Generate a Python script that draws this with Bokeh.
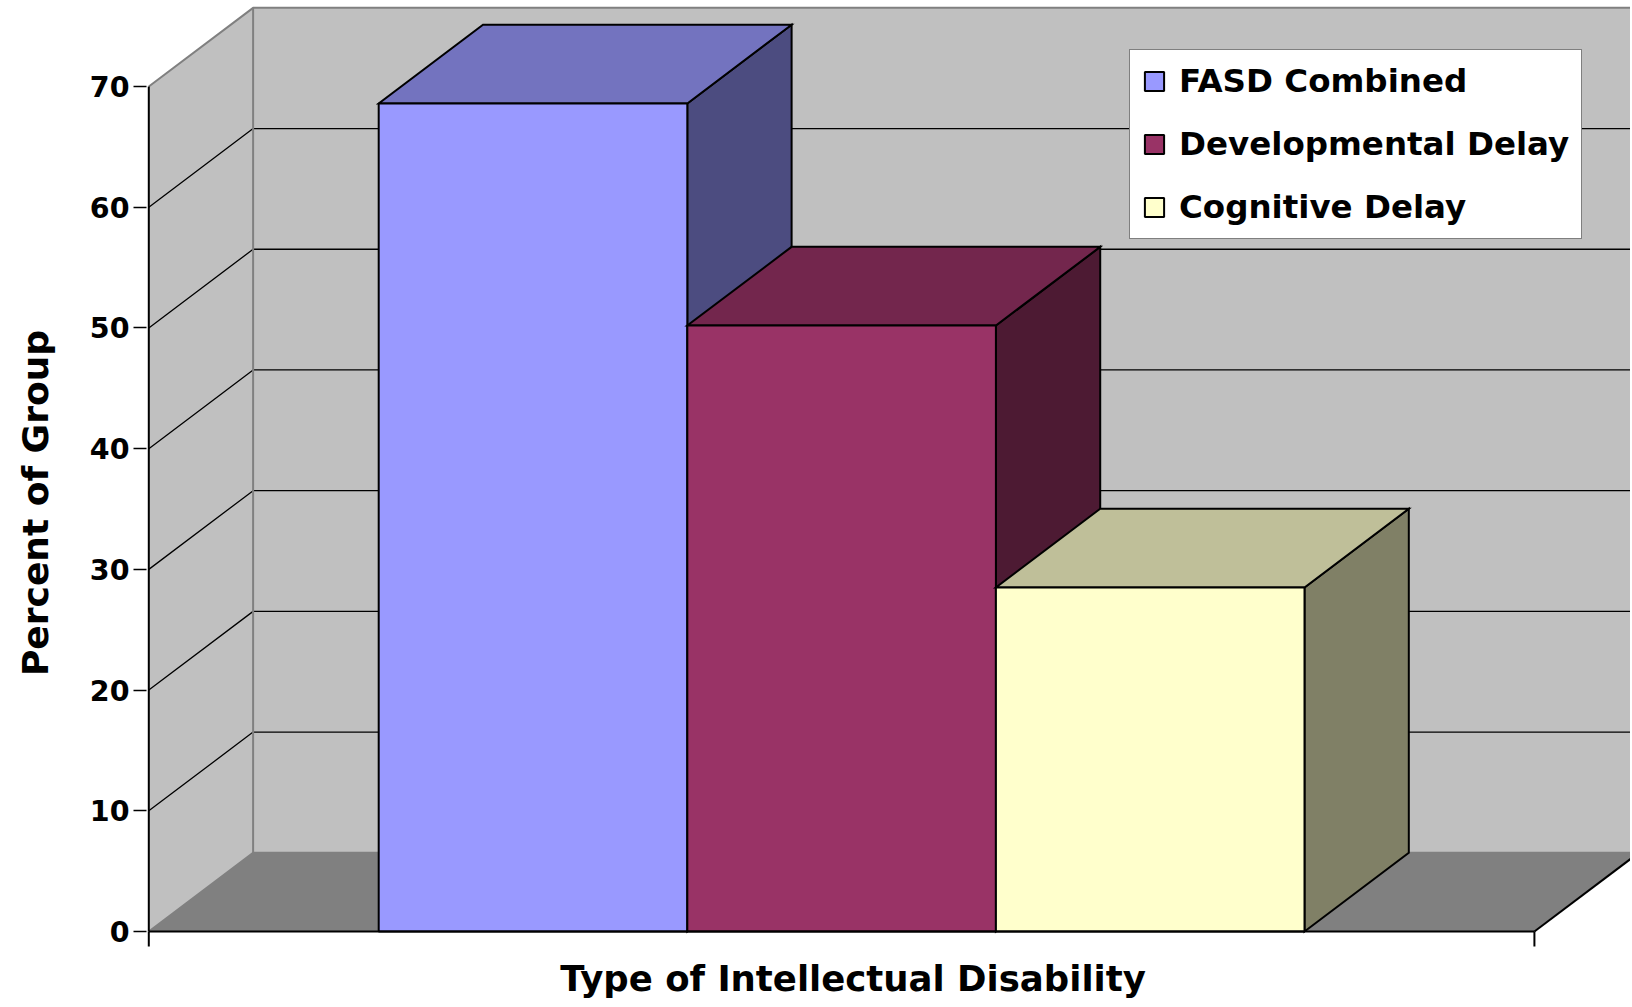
from bokeh.plotting import figure
from bokeh.models import (Range1d, LinearAxis, FixedTicker, Legend, LegendItem, Label)
from bokeh.embed import file_html
from bokeh.resources import INLINE

# ---------------- data ----------------
categories = ["FASD Combined", "Developmental Delay", "Cognitive Delay"]
values = [68.6, 50.2, 28.5]
front_colors = ["#9999FF", "#993366", "#FFFFCC"]
top_colors = ["#7373BF", "#73264D", "#BFBF99"]
side_colors = ["#4C4C80", "#4D1A33", "#808066"]
y_ticks = [0, 10, 20, 30, 40, 50, 60, 70]
y_title = "Percent of Group"
x_title = "Type of Intellectual Disability"

# ---------------- geometry / style ----------------
GAP = 0.745          # gap between axis end and bar cluster (bar widths)
BAR_W = 1.0
DX = 0.338           # depth offset (x, bar widths)
DY = 6.52            # depth offset (y, value units)
Y_MAX = 70
AXIS_LEN = 2 * GAP + len(values) * BAR_W

W, H = 1630, 1005
FRAME_LEFT = 146
PX_X = 308.6
PX_Y = 12.071
ZERO_Y = 931
x_start = -2.3 / PX_X
x_end = x_start + (W - FRAME_LEFT) / PX_X
y_top = ZERO_Y / PX_Y
y_bot = -(H - ZERO_Y) / PX_Y
FONT = "DejaVu Sans"

p = figure(width=W, height=H, x_range=Range1d(x_start, x_end), y_range=Range1d(y_bot, y_top),
           output_backend="svg", toolbar_location=None,
           x_axis_location=None, y_axis_location=None,
           min_border_left=FRAME_LEFT, min_border_right=0, min_border_top=0, min_border_bottom=0)
p.outline_line_color = None
p.grid.visible = False
p.background_fill_color = "white"

# walls and floor
wall = "#C0C0C0"
edge = "#808080"
far = x_end + 1
p.patch([0, DX, DX, 0], [0, DY, Y_MAX + DY, Y_MAX], fill_color=wall, line_color=None)
p.patch([DX, far, far, DX], [DY, DY, Y_MAX + DY, Y_MAX + DY], fill_color=wall, line_color=None)
p.patch([0, AXIS_LEN, AXIS_LEN + DX, far, far, DX], [0, 0, DY, DY, DY, DY],
        fill_color="#808080", line_color=None)

# gridlines
gx, gy = [], []
for v in y_ticks[1:-1]:
    gx.append([0, DX, far])
    gy.append([v, v + DY, v + DY])
p.multi_line(gx, gy, line_color="black", line_width=1.3)

# wall edges
p.multi_line([[0, DX, far], [DX, DX], [0, DX, far]],
             [[Y_MAX, Y_MAX + DY, Y_MAX + DY], [DY, Y_MAX + DY], [0, DY, DY]],
             line_color=edge, line_width=2)
p.line([AXIS_LEN, AXIS_LEN + DX], [0, DY], line_color="black", line_width=2)

# bars
items = []
for i, (cat, v) in enumerate(zip(categories, values)):
    x0 = GAP + i * BAR_W
    x1 = x0 + BAR_W
    p.patch([x1, x1 + DX, x1 + DX, x1], [0, DY, v + DY, v],
            fill_color=side_colors[i], line_color="black", line_width=2, line_join="miter")
    p.patch([x0, x1, x1 + DX, x0 + DX], [v, v, v + DY, v + DY],
            fill_color=top_colors[i], line_color="black", line_width=2, line_join="miter")
    r = p.quad(left=[x0], right=[x1], bottom=[0], top=[v],
               fill_color=front_colors[i], line_color="black", line_width=2)
    items.append(LegendItem(label=cat, renderers=[r]))

# axes lines and x ticks
tick = 15 / PX_Y
p.line([0, 0], [0, Y_MAX], line_color="black", line_width=2)
p.line([0, AXIS_LEN], [0, 0], line_color="black", line_width=2)
p.segment(x0=[0, AXIS_LEN], y0=[0, 0], x1=[0, AXIS_LEN], y1=[-tick, -tick],
          line_color="black", line_width=2)

yaxis = LinearAxis(ticker=FixedTicker(ticks=y_ticks))
yaxis.axis_line_color = None
yaxis.major_tick_line_color = "black"
yaxis.major_tick_line_width = 1.5
yaxis.major_tick_out = 13
yaxis.major_tick_in = 0
yaxis.minor_tick_line_color = None
yaxis.major_label_standoff = 4
yaxis.major_label_text_font = FONT
yaxis.major_label_text_font_style = "bold"
yaxis.major_label_text_font_size = "28.5px"
yaxis.major_label_text_color = "black"
yaxis.axis_label = y_title
yaxis.axis_label_text_font = FONT
yaxis.axis_label_text_font_style = "bold"
yaxis.axis_label_text_font_size = "36px"
yaxis.axis_label_text_color = "black"
yaxis.axis_label_standoff = 31
p.add_layout(yaxis, "left")

p.add_layout(Label(x=2.282, y=-3.9, text=x_title, text_font=FONT, text_font_style="bold",
                   text_font_size="35.5px", text_align="center", text_baseline="middle",
                   text_color="black"))

legend = Legend(items=items, location=(983, 766), orientation="vertical",
                label_text_font=FONT, label_text_font_style="bold", label_text_font_size="32.5px",
                label_text_color="black",
                glyph_width=24, glyph_height=24, label_standoff=13, spacing=25,
                padding=12, margin=0, border_line_color="black", border_line_width=1.5,
                background_fill_color="white", background_fill_alpha=1.0)
p.add_layout(legend)

open("out.html", "w").write(file_html(p, INLINE))
